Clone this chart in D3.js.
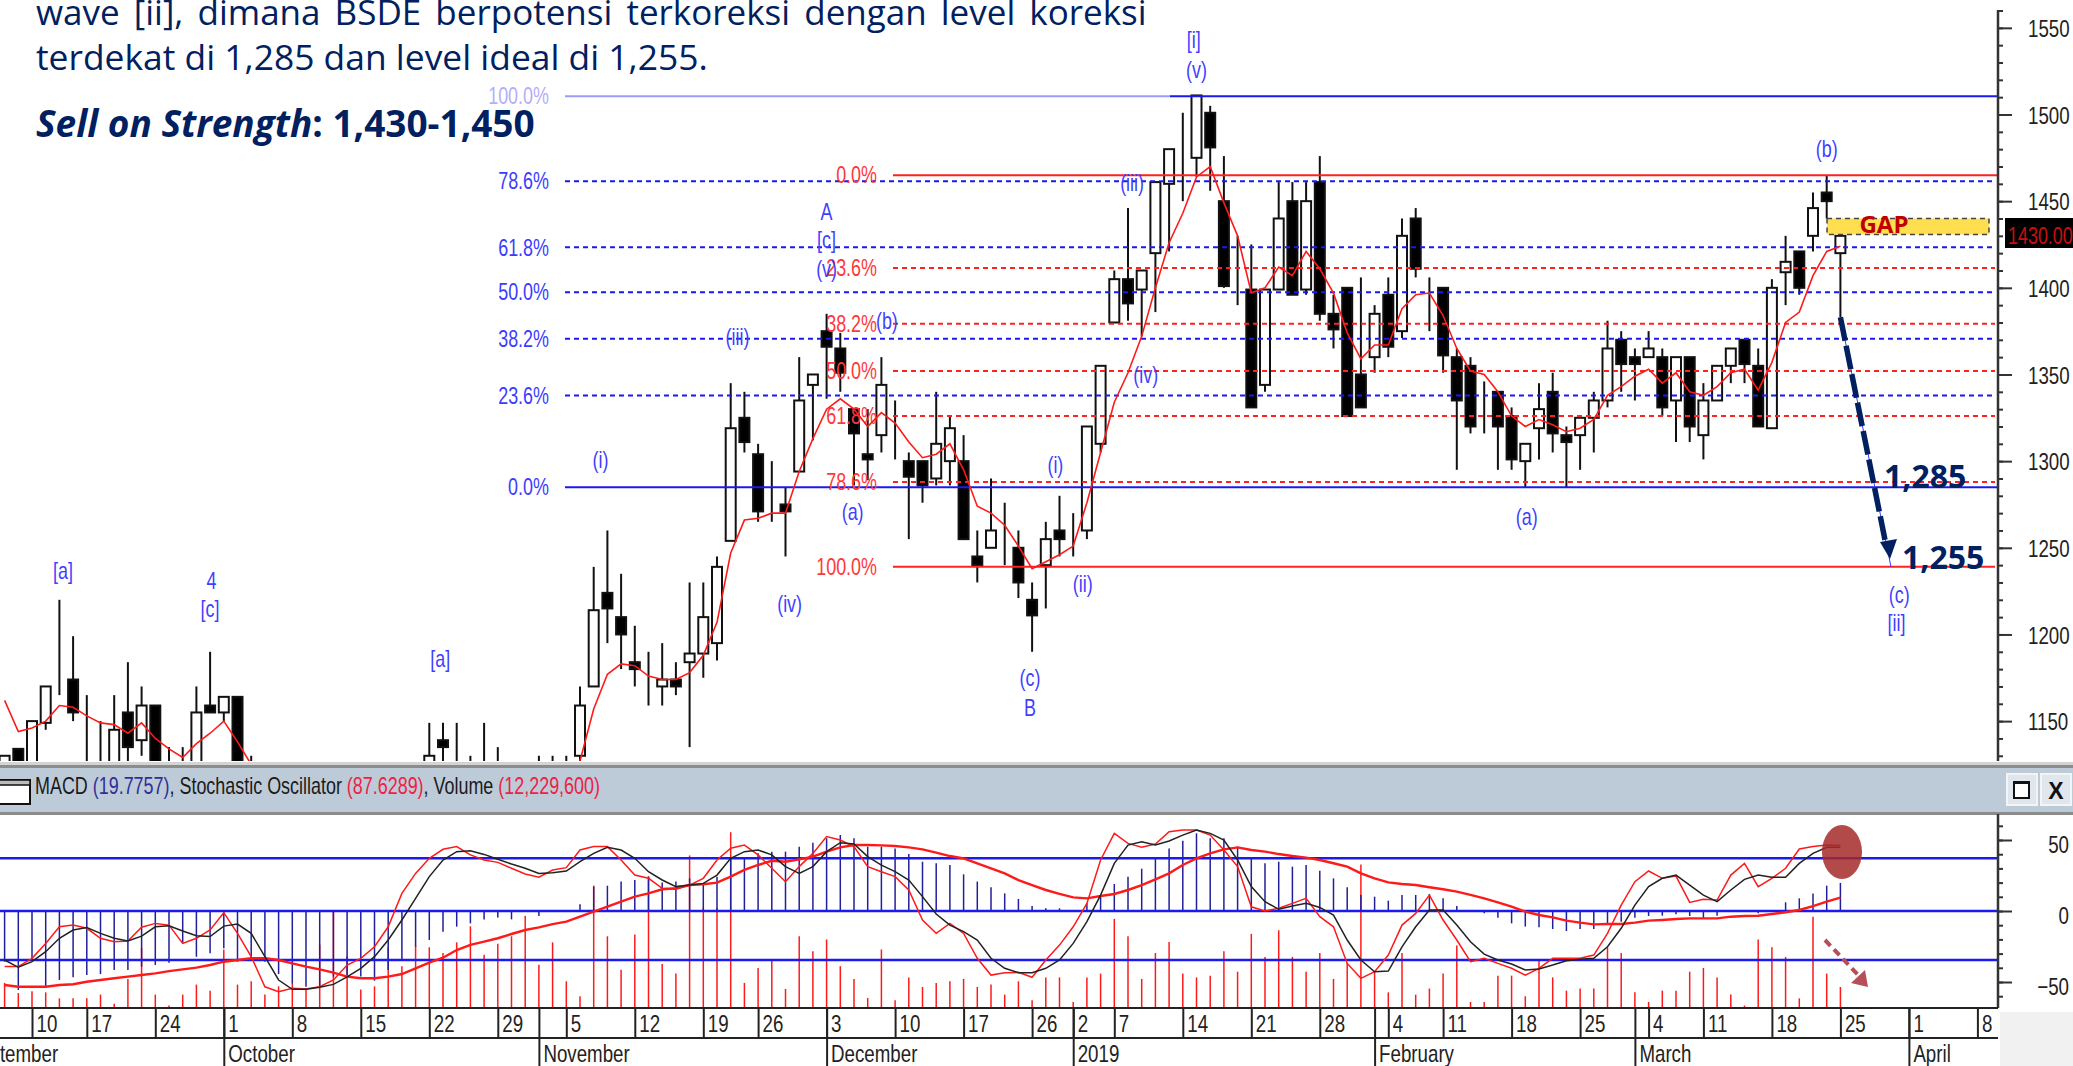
<!DOCTYPE html>
<html>
<head>
<meta charset="utf-8">
<script src="https://cdn.jsdelivr.net/npm/d3@7"></script>
<style>
  html, body { margin: 0; padding: 0; background: #fff; overflow: hidden; }
  svg { display: block; }
  text { font-family: "Liberation Sans", sans-serif; }
  .note { font-family: "Open Sans", sans-serif; fill: #002060; }
</style>
</head>
<body>
<div id="chart"></div>
<script>
// BSDE daily candles, Sep 2018 - Mar 2019, null = bar sits below the visible pane
const opens = [
  1100,1134,1120,1149,1171,1174,1150,1140,1120,1155,
  1139,1159,1110,1115,1120,1159,1155,1164,1110,null,
  null,null,null,null,null,null,null,null,null,null,
  null,1115,1139,1115,1110,1115,1110,null,null,1110,
  1110,1110,1130,1170,1224,1210,1184,1165,1170,1174,
  1184,1189,1195,1254,1325,1304,1276,1275,1294,1344,
  1375,1365,1330,1304,1315,1311,1300,1300,1290,1300,
  1300,1245,1250,1251,1250,1220,1240,1260,1255,1260,
  1310,1380,1405,1399,1420,1460,1477,1475,1501,1450,
  1401,1399,1344,1399,1450,1399,1461,1385,1400,1350,
  1360,1396,1375,1440,1401,1400,1360,1355,1346,1340,
  1326,1300,1319,1340,1315,1315,1325,1335,1370,1360,
  1360,1360,1335,1360,1315,1335,1355,1370,1355,1319,
  1409,1421,1430,1455,1420];
const highs = [
  1130,1134,1150,1170,1220,1199,1165,1150,1165,1184,
  1170,1159,1135,1135,1170,1190,1164,1164,1130,null,
  null,null,null,null,null,null,null,null,null,null,
  null,1149,1149,1149,1130,1149,1135,null,null,1130,
  1130,1130,1170,1239,1260,1235,1205,1190,1195,1184,
  1230,1230,1245,1345,1340,1310,1300,1285,1360,1350,
  1385,1374,1330,1330,1360,1335,1305,1300,1340,1326,
  1315,1260,1290,1276,1260,1230,1265,1280,1270,1320,
  1355,1410,1446,1410,1461,1480,1501,1511,1505,1476,
  1430,1425,1399,1461,1461,1461,1476,1396,1400,1406,
  1390,1406,1440,1446,1406,1400,1365,1360,1346,1340,
  1331,1310,1345,1351,1320,1325,1340,1381,1375,1365,
  1375,1365,1360,1360,1345,1355,1365,1370,1365,1405,
  1430,1421,1455,1465,1430];
const lows = [
  1090,1095,1100,1145,1165,1150,1110,1115,1100,1115,
  1130,1100,1095,1100,1110,1155,1150,1100,1095,null,
  null,null,null,null,null,null,null,null,null,null,
  null,1100,1115,1100,1100,1105,1100,null,null,1100,
  1100,1100,1120,1170,1195,1180,1170,1159,1159,1165,
  1135,1175,1185,1254,1305,1265,1265,1245,1294,1312,
  1336,1340,1286,1289,1305,1301,1255,1276,1286,1286,
  1255,1230,1250,1240,1221,1190,1215,1245,1245,1255,
  1305,1380,1381,1372,1386,1421,1450,1464,1456,1400,
  1390,1331,1340,1399,1396,1396,1381,1365,1326,1331,
  1351,1360,1371,1406,1375,1351,1295,1316,1316,1295,
  1295,1285,1301,1305,1285,1295,1305,1331,1340,1335,
  1360,1326,1311,1311,1301,1335,1345,1345,1320,1319,
  1390,1396,1421,1440,1383];
const closes = [
  1130,1100,1150,1170,1171,1155,1150,1140,1145,1135,
  1159,1115,1115,1110,1155,1155,1164,1110,1105,null,
  null,null,null,null,null,null,null,null,null,null,
  null,1130,1135,1110,1105,1110,1105,null,null,1105,
  1105,1105,1159,1214,1215,1200,1180,1165,1174,1170,
  1189,1210,1239,1319,1311,1271,1276,1271,1335,1350,
  1366,1351,1316,1301,1344,1311,1291,1286,1310,1319,
  1255,1240,1260,1251,1230,1211,1255,1255,1255,1320,
  1355,1405,1391,1410,1461,1480,1477,1511,1481,1401,
  1401,1331,1399,1440,1396,1450,1385,1376,1326,1331,
  1385,1366,1430,1411,1401,1361,1335,1320,1346,1320,
  1301,1310,1330,1316,1311,1325,1335,1365,1356,1356,
  1365,1331,1360,1320,1335,1355,1365,1356,1320,1400,
  1415,1400,1446,1450,1430];
const movingAvg = [
  1162,1144,1146,1150,1159,1158,1153,1149,1148,1143,
  1149,1140,1134,1129,1137,1143,1150,1138,1125,null,
  null,null,null,null,null,null,null,null,null,null,
  null,null,null,null,null,null,null,null,null,null,
  null,null,1127,1157,1177,1183,1182,1176,1174,1174,
  1178,1188,1207,1247,1266,1267,1270,1270,1294,1313,
  1330,1336,1330,1320,1328,1322,1311,1302,1304,1310,
  1295,1274,1270,1263,1251,1238,1242,1246,1251,1276,
  1305,1334,1351,1372,1400,1426,1443,1464,1470,1449,
  1430,1397,1400,1412,1407,1421,1411,1397,1374,1359,
  1367,1367,1388,1396,1397,1384,1365,1352,1350,1340,
  1326,1320,1324,1321,1317,1319,1324,1338,1343,1349,
  1353,1345,1351,1340,1338,1343,1351,1353,1341,1357,
  1380,1386,1407,1421,1424];

// lower pane
const macdHist = [
  -35.7,-55.6,-34.5,-53.3,-48.6,-46.7,-45.1,-44.4,-41.5,-41.5,
  -39.2,-38,-36.4,-22.8,-32.2,-29.8,-26.3,-35.7,-34.5,-35.7,
  -44.4,-50.9,-53.3,-53.3,-46.2,-45.1,-46.2,-49.1,-41.5,-34.5,
  -25.1,-20.4,-14.6,-11,-8.7,-5.9,-4.5,-5.9,0,-3.5,
  0,0,4.7,17.1,17.8,20.7,21.8,24.2,20,20.7,
  23,18.3,24.2,37.1,37.1,40.6,41.8,41.8,45.3,48.1,
  51.2,53.5,51.2,45.3,45.3,44.1,40.1,34.7,33.6,32.4,
  25.8,20.7,16.7,12.4,8.5,3.5,1.9,1.9,0,5.4,
  10.1,19,24.2,29.8,37.1,44.1,49.5,54.7,51.2,51.2,
  45.3,37.1,33.6,34.7,31.2,32.4,28.4,23,16.7,11.3,
  10.1,7.3,11.3,11.3,12,8.9,3.5,0,-1.6,-4.7,
  -8.7,-11,-11.5,-12.7,-14.1,-12.7,-12.7,-9.9,-7.5,-4.7,
  -3.5,-3.3,-2.3,-3.5,-5.2,-3.3,0,-0.5,-1.6,-0.5,
  6.1,8.9,12.4,17.8,19.8];
const macdSignal = [
  -52.1,-53.3,-53.3,-53.3,-52.1,-51.6,-49.8,-48.6,-47.4,-46.2,
  -45.1,-43.9,-42.3,-41.1,-39.9,-38,-35.7,-34.5,-33.3,-33.3,
  -34.5,-36.9,-39.2,-41.1,-43.4,-46.2,-47.4,-47.4,-46.2,-44.4,
  -40.4,-36.4,-32.9,-27.5,-23.9,-21.6,-19.2,-16.2,-13.4,-11.5,
  -9.2,-7.5,-4,-0.5,3.1,6.6,10.1,12.4,15.3,16,
  18.3,18.8,20,24.2,28.9,32.4,35.4,34.7,36.4,38.3,
  41.8,44.8,46.5,46.5,46.2,45.8,44.8,43.4,41.1,38.7,
  37.1,33.6,30,26.5,21.8,18.3,14.8,12,9.6,8.9,
  10.6,12,14.8,18.3,22.3,26.5,32.4,37.1,40.6,43.4,
  44.8,43,41.8,40.1,38.7,37.6,35.9,33.6,31.2,26.5,
  23,20.2,19,18.3,16.7,15.3,13.6,11.3,8.9,6.1,
  3.1,-0.5,-2.8,-4.5,-6.8,-8.2,-9.4,-9.2,-9.2,-8.2,
  -6.8,-6.3,-5.6,-5.2,-5.2,-5.2,-4,-3.5,-3.3,-2.1,
  -0.9,0.7,3.5,6.6,9.4];
const stochFast = [
  16.1,16.1,21,29.8,39.6,40.6,38.7,32.8,30.8,31.2,
  39.3,41.6,40.6,29.8,32.8,37.7,47.9,35.7,22,4.2,
  1.3,3.3,2.9,4.2,8.2,17,21,27.8,39.6,59.3,
  71.1,80,85.3,86.9,82,79,77.6,74.1,70.7,68.8,
  73.1,74.5,84.9,86.9,86.9,79,70.1,68.2,62.3,61.7,
  64.2,68.2,79,85.9,87.8,82,74.1,66.2,75.1,82.9,
  92.8,90.8,86.9,75.1,72.1,69.2,61.3,43.6,35.7,41.6,
  35.7,21,11.1,12.5,12.7,9.8,20,28.8,39.6,53.4,
  79,94.7,88.8,86.5,88.4,95.7,96.7,96.7,93.7,84.9,
  75.1,51.4,48.9,50.5,53.4,56.4,45.6,39.6,18,9.2,
  13.1,22.9,40.6,47.5,58.3,43.6,31.8,19,21,18,
  15.1,11.1,15.1,21,21,21,22.9,35.7,52.4,66.2,
  72.5,68.2,69.5,54,55.8,55.4,70.1,77,63.3,68.2,
  74.1,85.5,86.9,87.8,87.6];
const stochSlow = [
  20,15.7,19,24.9,32.8,37.7,39.1,35.7,32.8,31.2,
  34.1,39.6,40.2,37.1,34.3,33.8,40,41.2,35.7,22,
  8.2,2.7,2.7,3.9,5.6,10.1,15.1,22,31.8,43.6,
  56.4,69.2,79,83.9,84.5,82.3,79.4,76.6,74.1,71.1,
  71.5,72.5,78,82.9,86.5,84.9,80,72.1,67.2,63.3,
  64.2,65.2,70.1,80,83.9,84.9,82,75.1,71.1,75.1,
  83.9,89.2,88.4,81,76,72.1,67.2,57.4,47.1,40.6,
  36.7,31.8,21,15.1,12.5,12.5,15.1,20,29.8,42.6,
  58.3,77,87.8,89.8,87.8,90.2,93.7,96.7,94.7,90.8,
  79,63.3,54.4,49.9,51.8,53.4,51,46.5,31.8,20,
  13.1,13.5,27.8,39.6,49.5,49.5,40.6,30.8,23.5,20,
  17.6,14.1,14.7,17,19.6,20.4,21,27.8,38.7,52.4,
  63.3,68.2,70.1,64.2,58.3,54.4,61.3,67.6,70.1,68.8,
  68.8,77,82.9,86.5,86.5];
const volumeM = [
  14.6,8.7,9.7,9.1,5.6,5.6,5.6,7.8,2.5,16.9,
  34.9,7.8,1.4,7.8,13.6,10.1,34,13.6,15.5,7.8,
  12.6,14.6,11.6,36.9,56.3,30.1,10.7,12.6,35.3,24.3,
  36.3,35.3,32,38.2,47.5,31,37.4,41.7,53.7,25.2,
  38.2,15.5,6.8,71.2,41.7,22.3,42.7,76.6,25.6,20,
  88.7,58.2,58.2,102.2,14.6,23.3,27.7,11.1,41.7,33,
  39.8,24.3,16.9,5.8,34,4.5,17.8,12.2,14.6,15.5,
  16.9,12.2,13.6,7.8,15.5,4.5,17.8,17.8,3.5,17.8,
  20,51.8,41.7,16.9,32,38.4,20,17.8,18.8,33,
  21.1,43.1,29.7,45.2,29.7,21.1,32,16.9,26.2,83.4,
  21.3,9.1,32,7.8,11.3,20,36.3,3.5,3.5,18.8,
  18.8,6.8,28.5,17.8,10.1,11.3,11.3,35.3,32,9.1,
  3.5,10.1,10.1,21.1,23.3,17.8,7.8,1.4,39.8,35.3,
  29.7,5.6,53,20,12.2];

// date axis, bar index of each labelled session
const dayBars = [2,6,11,16,21,26,31,36,41,46,51,55,60,65,70,75,78,81,86,91,96,101,105,110,115,120,124,129,134,139,144];
const dayLabels = ['10','17','24','1','8','15','22','29','5','12','19','26','3','10','17','26','2','7','14','21','28','4','11','18','25','4','11','18','25','1','8'];
const monthBars = [-3.1,16,39,60,78,100,119,139];
const monthLabels = ['September','October','November','December','2019','February','March','April'];

// fibonacci levels
const blueFibPct = ['100.0%','78.6%','61.8%','50.0%','38.2%','23.6%','0.0%'];
const blueFibPrice = [1510.6,1461.5,1423.4,1397.5,1370.6,1337.9,1285];
const redFibPct = ['0.0%','23.6%','38.2%','50.0%','61.8%','78.6%','100.0%'];
const redFibPrice = [1465,1411.5,1379.2,1352,1326,1288,1239];

// wave counts: text, bar index, price
const waveLabels = [
  ['[a]',4.26,1236.6],['4',15.1,1231],['[c]',15,1215],['[a]',31.8,1186],['(i)',43.5,1301],
  ['(iii)',53.5,1372],['A',60,1444],['[c]',60,1428],['(v)',60,1411],['(b)',64.4,1381],
  ['(a)',61.9,1271],['(iv)',57.3,1218],['(i)',76.7,1298],['(ii)',78.7,1229],['(c)',74.85,1175],
  ['B',74.85,1158],['[i]',86.8,1543],['(v)',87,1526],['(iii)',82.3,1460.5],['(iv)',83.3,1350],
  ['(a)',111.1,1268],['(b)',133,1480],['(c)',138.3,1223],['[ii]',138.1,1206.6]];

const W = 2073, H = 1066;
const axisX = 1998;
const priceBottom = 761, barTop = 770, barBottom = 812, lowerTop = 814, lowerBottom = 1008, dayRow = 1038;

const barBlue = '#3c3cff', lineBlue = '#1a1aee', lineRed = '#ff2020', navy = '#002060';

const svg = d3.select('#chart').append('svg').attr('width', W).attr('height', H);

const x = d3.scaleLinear().domain([0, 134]).range([4.6, 1840.4]);
const y = d3.scaleLinear().domain([1500, 1250]).range([114.5, 547.8]);
const yMacd = d3.scaleLinear().domain([50, 0, -50]).range([840, 911, 982]);
const yStoch = d3.scaleLinear().domain([80, 20]).range([858.3, 960]);
const yVol = d3.scaleLinear().domain([0, 100]).range([lowerBottom, lowerBottom - 172]);

svg.append('defs').append('clipPath').attr('id', 'pricePane')
  .append('rect').attr('x', 0).attr('y', 0).attr('width', axisX).attr('height', priceBottom);

// candles
const bars = d3.range(opens.length).filter(i => opens[i] !== null);
const price = svg.append('g').attr('clip-path', 'url(#pricePane)');
const candles = price.selectAll('.candle').data(bars).enter().append('g').attr('class', 'candle');
candles.append('line')
  .attr('x1', i => x(i)).attr('x2', i => x(i))
  .attr('y1', i => y(highs[i])).attr('y2', i => y(lows[i]))
  .attr('stroke', '#111').attr('stroke-width', 2);
candles.append('rect')
  .attr('x', i => x(i) - 5).attr('width', 10)
  .attr('y', i => y(Math.max(opens[i], closes[i])))
  .attr('height', i => Math.abs(y(opens[i]) - y(closes[i])))
  .attr('fill', i => closes[i] > opens[i] ? '#fff' : '#000')
  .attr('stroke', '#111').attr('stroke-width', 2);

// fib lines go over the candles
price.append('line')
  .attr('x1', 565).attr('x2', 1170).attr('y1', y(blueFibPrice[0])).attr('y2', y(blueFibPrice[0]))
  .attr('stroke', '#9c9cf8').attr('stroke-width', 2);
blueFibPrice.forEach((p, k) => {
  price.append('line')
    .attr('x1', k === 0 ? 1170 : 565).attr('x2', k === 0 || k === 6 ? axisX : 1995)
    .attr('y1', y(p)).attr('y2', y(p))
    .attr('stroke', lineBlue).attr('stroke-width', 2)
    .attr('stroke-dasharray', k === 0 || k === 6 ? null : '5,4');
  price.append('text')
    .attr('x', 549).attr('y', y(p)).attr('dy', '0.36em').attr('text-anchor', 'end')
    .attr('font-size', 23).attr('fill', k === 0 ? '#b4aef8' : barBlue).text(blueFibPct[k]);
});
redFibPrice.forEach((p, k) => {
  price.append('line')
    .attr('x1', 893).attr('x2', k === 0 ? axisX : 1995)
    .attr('y1', y(p)).attr('y2', y(p))
    .attr('stroke', lineRed).attr('stroke-width', 2)
    .attr('stroke-dasharray', k === 0 || k === 6 ? null : '5,4');
  price.append('text')
    .attr('x', 877).attr('y', y(p)).attr('dy', '0.36em').attr('text-anchor', 'end')
    .attr('font-size', 23).attr('fill', '#ff3838').text(redFibPct[k]);
});

// moving average
const maLine = d3.line().defined(i => movingAvg[i] !== null).x(i => x(i)).y(i => y(movingAvg[i]));
price.append('path')
  .attr('d', maLine(d3.range(movingAvg.length)))
  .attr('fill', 'none').attr('stroke', '#ff1a1a').attr('stroke-width', 1.6);

waveLabels.forEach(d => {
  svg.append('text')
    .attr('x', x(d[1])).attr('y', y(d[2])).attr('dy', '0.36em').attr('text-anchor', 'middle')
    .attr('font-size', 23).attr('fill', '#3f3fff').text(d[0]);
});

// gap box
svg.append('rect')
  .attr('x', 1827).attr('width', 162).attr('y', y(1440)).attr('height', 16)
  .attr('fill', '#ffdf50').attr('stroke', '#444').attr('stroke-width', 1.5).attr('stroke-dasharray', '5,4');
svg.append('text').attr('class', 'note')
  .attr('x', 1884).attr('y', 233).attr('text-anchor', 'middle')
  .attr('font-size', 24).attr('font-weight', 700).style('fill', '#c00000').text('GAP');

// projected move
svg.append('line')
  .attr('x1', x(134)).attr('y1', y(1383)).attr('x2', 1891).attr('y2', y(1239))
  .attr('stroke', '#3a3aff').attr('stroke-width', 1);
svg.append('line')
  .attr('x1', x(134)).attr('y1', y(1383)).attr('x2', 1885).attr('y2', 540)
  .attr('stroke', navy).attr('stroke-width', 5.5).attr('stroke-dasharray', '24,5');
svg.append('path')
  .attr('d', 'M1880,542 L1897,539 L1890,559 Z').attr('fill', navy);
svg.append('text').attr('class', 'note')
  .attr('x', 1884).attr('y', 488).attr('font-size', 32).attr('font-weight', 700).text('1,285');
svg.append('text').attr('class', 'note')
  .attr('x', 1902).attr('y', 569).attr('font-size', 32).attr('font-weight', 700).text('1,255');

// right price axis
const priceMinor = svg.append('g').attr('transform', `translate(${axisX},0)`)
  .call(d3.axisRight(y).tickValues(d3.range(1130, 1561, 10)).tickSize(5).tickFormat(''));
const priceMajor = svg.append('g').attr('transform', `translate(${axisX},0)`)
  .call(d3.axisRight(y).tickValues(d3.range(1150, 1551, 50)).tickSize(14).tickFormat(d3.format('d')));
[priceMinor, priceMajor].forEach(g => {
  g.select('.domain').remove();
  g.selectAll('line').attr('stroke', '#333').attr('stroke-width', 2);
});
priceMajor.selectAll('text').attr('x', 30).attr('dy', '0.36em').attr('font-size', 24)
  .attr('font-family', 'Liberation Sans').attr('fill', '#222');
svg.append('line').attr('x1', axisX).attr('x2', axisX).attr('y1', 10).attr('y2', priceBottom)
  .attr('stroke', '#333').attr('stroke-width', 2.5);

// last price tag
svg.append('rect').attr('x', 2005).attr('y', 218).attr('width', 68).attr('height', 30).attr('fill', '#000');
svg.append('text').attr('x', 2008).attr('y', y(1430)).attr('dy', '0.36em')
  .attr('font-size', 23).attr('fill', '#c81010').text('1430.000');

// header bar between panes
svg.append('rect').attr('x', 0).attr('y', priceBottom + 1).attr('width', W).attr('height', 3).attr('fill', '#d4d4d4');
svg.append('rect').attr('x', 0).attr('y', priceBottom + 4).attr('width', W).attr('height', 3).attr('fill', '#8c8c8c');
svg.append('rect').attr('x', 0).attr('y', priceBottom + 7).attr('width', W).attr('height', barBottom - priceBottom - 7).attr('fill', '#bdcbd9');
svg.append('rect').attr('x', 0).attr('y', barBottom).attr('width', W).attr('height', 3).attr('fill', '#8c8c8c');

svg.append('rect').attr('x', -2).attr('y', 780).attr('width', 32).attr('height', 24)
  .attr('fill', '#fff').attr('stroke', '#111').attr('stroke-width', 2);
svg.append('rect').attr('x', -2).attr('y', 780).attr('width', 32).attr('height', 5)
  .attr('fill', '#bbb').attr('stroke', '#111').attr('stroke-width', 1.5);

const title = svg.append('text').attr('x', 35).attr('y', 794).attr('font-size', 23).attr('fill', '#1a1a1a');
title.append('tspan').text('MACD ');
title.append('tspan').attr('fill', '#2f2f9a').text('(19.7757)');
title.append('tspan').text(', Stochastic Oscillator ');
title.append('tspan').attr('fill', '#ee2244').text('(87.6289)');
title.append('tspan').text(', Volume ');
title.append('tspan').attr('fill', '#ee2244').text('(12,229,600)');

// window buttons
[2007, 2041].forEach((bx, k) => {
  svg.append('rect').attr('x', bx).attr('y', 774).attr('width', 30).attr('height', 31)
    .attr('fill', '#dfe6ee').attr('stroke', '#f4f4f4').attr('stroke-width', 2);
  if (k === 0) {
    svg.append('rect').attr('x', bx + 7).attr('y', 782).attr('width', 15).attr('height', 16)
      .attr('fill', '#fff').attr('stroke', '#111').attr('stroke-width', 2);
    svg.append('rect').attr('x', bx + 6).attr('y', 781).attr('width', 17).attr('height', 3).attr('fill', '#111');
  } else {
    svg.append('text').attr('class', 'btn').attr('x', bx + 15).attr('y', 799).attr('text-anchor', 'middle')
      .attr('font-weight', 700).attr('font-size', 23).attr('fill', '#111').text('X');
  }
});

// lower pane: volume, macd histogram, levels, lines
const lower = svg.append('g');
lower.selectAll('.vol').data(volumeM).enter().append('line')
  .attr('class', 'vol')
  .attr('x1', (d, i) => x(i)).attr('x2', (d, i) => x(i))
  .attr('y1', yVol(0)).attr('y2', d => yVol(d))
  .attr('stroke', '#ff1a1a').attr('stroke-width', 1.5);
lower.selectAll('.hist').data(macdHist).enter().append('line')
  .attr('class', 'hist')
  .attr('x1', (d, i) => x(i)).attr('x2', (d, i) => x(i))
  .attr('y1', yMacd(0)).attr('y2', d => yMacd(d))
  .attr('stroke', '#20209a').attr('stroke-width', 1.5);
[yStoch(80), yMacd(0), yStoch(20)].forEach(ly => {
  lower.append('line').attr('x1', 0).attr('x2', axisX).attr('y1', ly).attr('y2', ly)
    .attr('stroke', lineBlue).attr('stroke-width', 2.5);
});
const lineAt = (arr, scale) => d3.line().x((d, i) => x(i)).y(d => scale(d))(arr);
lower.append('path').attr('d', lineAt(macdSignal, yMacd)).attr('fill', 'none').attr('stroke', '#ff1a1a').attr('stroke-width', 2.4);
lower.append('path').attr('d', lineAt(stochFast, yStoch)).attr('fill', 'none').attr('stroke', '#ff1a1a').attr('stroke-width', 1.5);
lower.append('path').attr('d', lineAt(stochSlow, yStoch)).attr('fill', 'none').attr('stroke', '#222').attr('stroke-width', 1.5);

// highlight and small arrow
svg.append('ellipse').attr('cx', 1842).attr('cy', 852).attr('rx', 20).attr('ry', 27)
  .attr('fill', '#a52a2a').attr('opacity', 0.85);
svg.append('line').attr('x1', 1825).attr('y1', 940).attr('x2', 1861).attr('y2', 978)
  .attr('stroke', '#b5505a').attr('stroke-width', 4).attr('stroke-dasharray', '8,5');
svg.append('path').attr('d', 'M1868,987 L1851,983 L1865,970 Z').attr('fill', '#b5505a');

// lower axis
const macdMinor = svg.append('g').attr('transform', `translate(${axisX},0)`)
  .call(d3.axisRight(yMacd).tickValues(d3.range(-60, 61, 10)).tickSize(5).tickFormat(''));
const macdMajor = svg.append('g').attr('transform', `translate(${axisX},0)`)
  .call(d3.axisRight(yMacd).tickValues([50, 0, -50]).tickSize(14).tickFormat(d3.format('d')));
[macdMinor, macdMajor].forEach(g => {
  g.select('.domain').remove();
  g.selectAll('line').attr('stroke', '#333').attr('stroke-width', 2);
});
macdMajor.selectAll('text').attr('x', 71).attr('dy', '0.5em').attr('text-anchor', 'end').attr('font-size', 24)
  .attr('font-family', 'Liberation Sans').attr('fill', '#222');
svg.append('line').attr('x1', axisX).attr('x2', axisX).attr('y1', lowerTop).attr('y2', lowerBottom)
  .attr('stroke', '#333').attr('stroke-width', 2.5);
svg.append('rect').attr('x', 2000).attr('y', 1012).attr('width', 73).attr('height', 54).attr('fill', '#f1f1f1');

// date axes, the day row and the longer month row
const dayAxis = d3.axisBottom(x).tickValues(dayBars).tickSize(dayRow - lowerBottom).tickFormat((d, k) => dayLabels[k]);
const monthAxis = d3.axisBottom(x).tickValues(monthBars).tickSize(H - lowerBottom).tickFormat((d, k) => monthLabels[k]);
[dayAxis, monthAxis].forEach((axis, k) => {
  const g = svg.append('g').attr('transform', `translate(0,${lowerBottom})`).call(axis);
  g.select('.domain').remove();
  g.selectAll('line').attr('stroke', '#222').attr('stroke-width', 2);
  g.selectAll('text').attr('x', 4).attr('y', k === 0 ? 15 : 54).attr('dy', k === 0 ? '0.36em' : 0)
    .attr('text-anchor', 'start').attr('font-size', 24)
    .attr('font-family', 'Liberation Sans').attr('fill', '#222');
});
[lowerBottom, dayRow].forEach(ly => {
  svg.append('line').attr('x1', 0).attr('x2', axisX).attr('y1', ly).attr('y2', ly)
    .attr('stroke', '#222').attr('stroke-width', 2);
});

// no narrow face is installed, squeeze the chart labels instead
svg.selectAll('text:not(.note):not(.btn)').each(function() {
  const t = d3.select(this);
  const tx = +t.attr('x') || 0, ty = +t.attr('y') || 0;
  t.attr('transform', `translate(${tx},${ty}) scale(0.78,1) translate(${-tx},${-ty})`);
});

// commentary over the chart
svg.append('text').attr('class', 'note').attr('x', 36).attr('y', 25).attr('font-size', 35)
  .attr('word-spacing', 5).text('wave [ii], dimana BSDE berpotensi terkoreksi dengan level koreksi');
svg.append('text').attr('class', 'note').attr('x', 36).attr('y', 70).attr('font-size', 35.4)
  .text('terdekat di 1,285 dan level ideal di 1,255.');
const sell = svg.append('text').attr('class', 'note').attr('x', 36).attr('y', 137).attr('font-size', 37).attr('font-weight', 700);
sell.append('tspan').attr('font-style', 'italic').text('Sell on Strength');
sell.append('tspan').text(': 1,430-1,450');
</script>
</body>
</html>
